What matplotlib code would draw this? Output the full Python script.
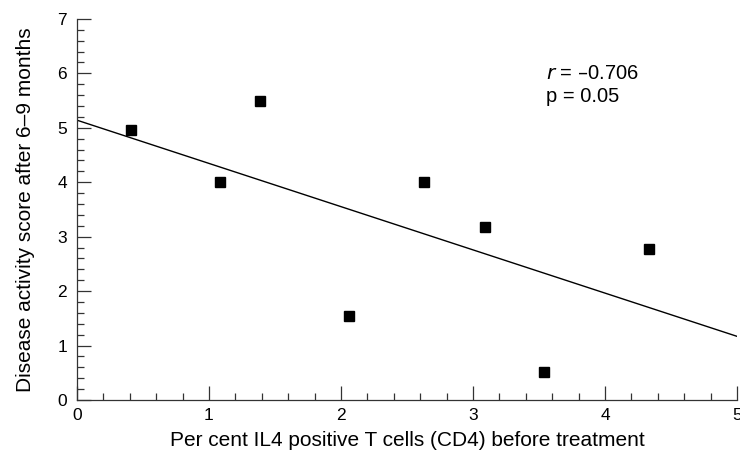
import matplotlib.pyplot as plt
from matplotlib.ticker import MultipleLocator

plt.rcParams['font.family'] = ['Liberation Sans', 'DejaVu Sans']

il4_pct = [0.41, 1.08, 1.39, 2.06, 2.63, 3.09, 3.54, 4.33]
activity = [4.96, 4.00, 5.49, 1.54, 4.00, 3.18, 0.51, 2.77]
fit_x = [0, 5]
fit_y = [5.14, 1.17]

fig = plt.figure(figsize=(7.4, 4.5), dpi=100)
ax = fig.add_axes([0.104, 0.111, 0.892, 0.847])

ax.plot(fit_x, fit_y, color='black', lw=1.0)
ax.plot(il4_pct, activity, 's', color='black', ms=6.5, clip_on=False)

ax.set_xlim(0, 5)
ax.set_ylim(0, 7)
ax.xaxis.set_major_locator(MultipleLocator(1))
ax.xaxis.set_minor_locator(MultipleLocator(0.2))
ax.yaxis.set_major_locator(MultipleLocator(1))
ax.yaxis.set_minor_locator(MultipleLocator(0.2))
ax.tick_params(which='major', direction='in', length=10, width=0.9, color='#333333',
               labelsize=12.5, pad=5.5)
ax.tick_params(which='minor', direction='in', length=5, width=0.9, color='#333333')
ax.tick_params(axis='y', pad=7)

for s in ['top', 'right']:
    ax.spines[s].set_visible(False)
for s in ['left', 'bottom']:
    ax.spines[s].set_linewidth(0.9)
    ax.spines[s].set_color('#333333')

ax.set_xlabel('Per cent IL4 positive T cells (CD4) before treatment', fontsize=15, labelpad=6)
ax.set_ylabel('Disease activity score after 6–9 months', fontsize=15, labelpad=16)

ax.text(3.55, 6.0, r'$r$ = –0.706', fontsize=14.5, va='center', ha='left')
ax.text(3.55, 5.57, 'p = 0.05', fontsize=14.5, va='center', ha='left')

fig.savefig('out.png', dpi=100)
